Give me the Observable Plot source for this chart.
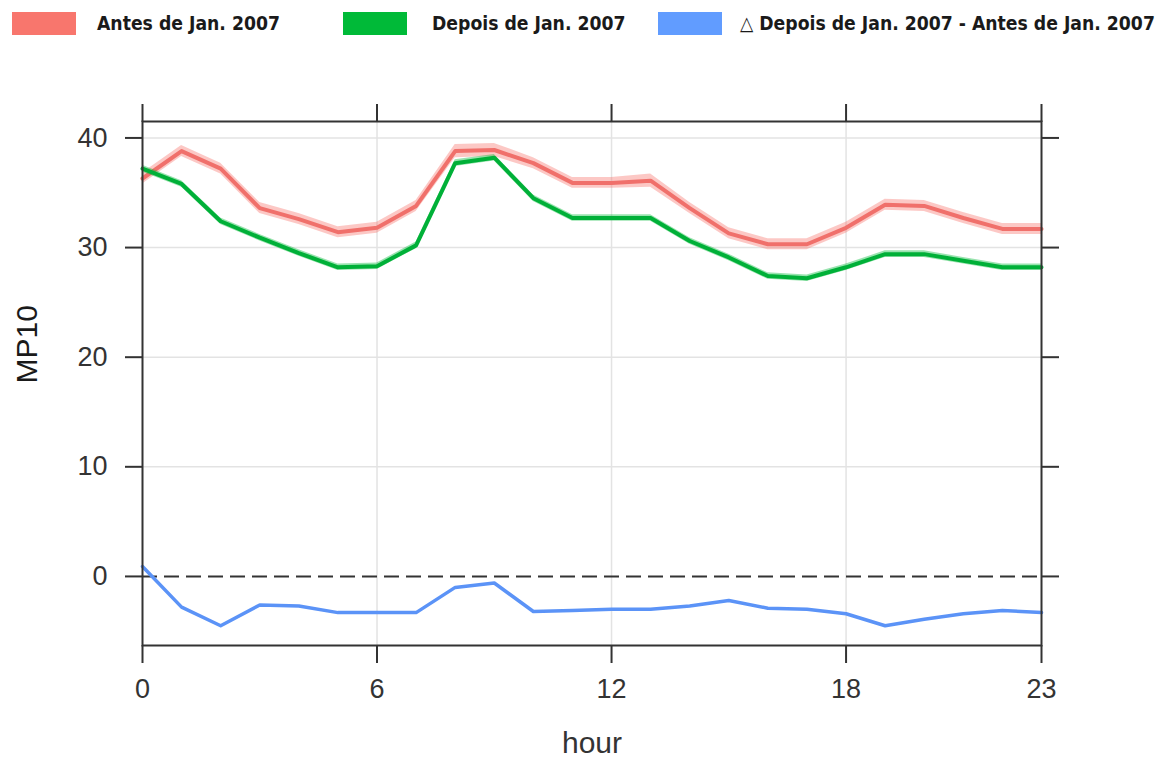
<!DOCTYPE html>
<html>
<head>
<meta charset="utf-8">
<script src="https://cdn.jsdelivr.net/npm/d3@7"></script>
<script src="https://cdn.jsdelivr.net/npm/@observablehq/plot@0.6"></script>
<style>
  html, body { margin: 0; padding: 0; background: #fff; }
  #wrap { width: 1160px; height: 760px; position: relative; overflow: hidden; }
  #legend { position: relative; width: 1160px; height: 60px; font-family: "DejaVu Sans Condensed", "DejaVu Sans", sans-serif; font-stretch: condensed; font-weight: bold; font-size: 19.2px; color: #1a1a1a; }
  .sw { position: absolute; top: 12px; width: 64px; height: 23px; }
  .lt { position: absolute; top: 12px; line-height: 23px; white-space: nowrap; }
  #chart svg { display: block; }
</style>
</head>
<body>
<div id="wrap">
  <div id="legend"></div>
  <div id="chart"></div>
</div>
<script>
// ---- data ----
const hours = [0,1,2,3,4,5,6,7,8,9,10,11,12,13,14,15,16,17,18,19,20,21,22,23];
const antes = [36.3,38.8,37.2,33.6,32.6,31.4,31.8,33.8,38.8,38.9,37.7,35.9,35.9,36.1,33.6,31.3,30.3,30.3,31.8,33.9,33.8,32.7,31.7,31.7];
const antesCI = [0.5,0.5,0.5,0.5,0.5,0.5,0.5,0.5,0.6,0.6,0.5,0.5,0.5,0.6,0.5,0.5,0.5,0.5,0.5,0.5,0.5,0.5,0.5,0.5];
const depois = [37.2,35.8,32.4,30.9,29.5,28.2,28.3,30.2,37.7,38.2,34.5,32.7,32.7,32.7,30.6,29.1,27.4,27.2,28.2,29.4,29.4,28.8,28.2,28.2];
const depoisCI = [0.3,0.3,0.3,0.3,0.3,0.3,0.3,0.3,0.3,0.3,0.3,0.3,0.3,0.3,0.3,0.3,0.3,0.3,0.3,0.3,0.3,0.3,0.3,0.3];
const diff = [0.9,-2.8,-4.5,-2.6,-2.7,-3.3,-3.3,-3.3,-1.0,-0.6,-3.2,-3.1,-3.0,-3.0,-2.7,-2.2,-2.9,-3.0,-3.4,-4.5,-3.9,-3.4,-3.1,-3.3];
const xTicks = [0,6,12,18,23];
const yTicks = [0,10,20,30,40];
const seriesNames = ["Antes de Jan. 2007", "Depois de Jan. 2007", "\u25B3 Depois de Jan. 2007 - Antes de Jan. 2007"];
const seriesColors = ["#F8766D", "#00BA38", "#619CFF"];
const xLabel = "hour";
const yLabel = "MP10";

// ---- legend ----
const legend = document.getElementById("legend");
const swX = [12, 343, 658];
const txX = [97, 432, 740];
seriesNames.forEach((n, i) => {
  const s = document.createElement("div");
  s.className = "sw"; s.style.left = swX[i] + "px"; s.style.background = seriesColors[i];
  legend.appendChild(s);
  const t = document.createElement("div");
  t.className = "lt"; t.style.left = txX[i] + "px"; t.textContent = n;
  legend.appendChild(t);
});

// ---- tables ----
const tA = hours.map((h, i) => ({h, v: antes[i], lo: antes[i] - antesCI[i], hi: antes[i] + antesCI[i]}));
const tD = hours.map((h, i) => ({h, v: depois[i], lo: depois[i] - depoisCI[i], hi: depois[i] + depoisCI[i]}));
const tF = hours.map((h, i) => ({h, v: diff[i]}));

const chart = Plot.plot({
  width: 1160,
  height: 700,
  marginTop: 61,
  marginBottom: 115,
  marginLeft: 142,
  marginRight: 119,
  style: {fontFamily: "'Liberation Sans', Arial, sans-serif", color: "#333", background: "#fff"},
  x: {domain: [0, 23]},
  y: {domain: [-6.3, 41.5]},
  marks: [
    Plot.gridY(yTicks.filter(d => d !== 0), {stroke: "#e3e3e3", strokeOpacity: 1, strokeWidth: 1.5}),
    Plot.gridX([6, 12, 18], {stroke: "#e3e3e3", strokeOpacity: 1, strokeWidth: 1.5}),
    Plot.ruleY([0], {stroke: "#333", strokeWidth: 2, strokeDasharray: "15,7"}),
    Plot.areaY(tA, {x: "h", y1: "lo", y2: "hi", fill: seriesColors[0], fillOpacity: 0.4}),
    Plot.line(tA, {x: "h", y: "v", stroke: "#F0706B", strokeWidth: 4}),
    Plot.areaY(tD, {x: "h", y1: "lo", y2: "hi", fill: seriesColors[1], fillOpacity: 0.4}),
    Plot.line(tD, {x: "h", y: "v", stroke: "#00B038", strokeWidth: 4}),
    Plot.line(tF, {x: "h", y: "v", stroke: "#5B93F7", strokeWidth: 3.5}),
    Plot.frame({stroke: "#333", strokeWidth: 2}),
    Plot.axisY(yTicks, {anchor: "left", tickSize: 17, tickPadding: 18, fontSize: 27, strokeWidth: 2, label: null}),
    Plot.axisY(yTicks, {anchor: "right", tickSize: 17, text: null, strokeWidth: 2, label: null}),
    Plot.axisX(xTicks, {anchor: "bottom", tickSize: 18, tickPadding: 15, fontSize: 27, strokeWidth: 2, label: null}),
    Plot.axisX(xTicks, {anchor: "top", tickSize: 18, text: null, strokeWidth: 2, label: null}),
    Plot.text([xLabel], {frameAnchor: "bottom", dy: 107, fontSize: 30, fill: "#333"}),
    Plot.text([yLabel], {frameAnchor: "left", dx: -115, rotate: -90, fontSize: 30, fill: "#1a1a1a"})
  ]
});
document.getElementById("chart").appendChild(chart);
</script>
</body>
</html>
